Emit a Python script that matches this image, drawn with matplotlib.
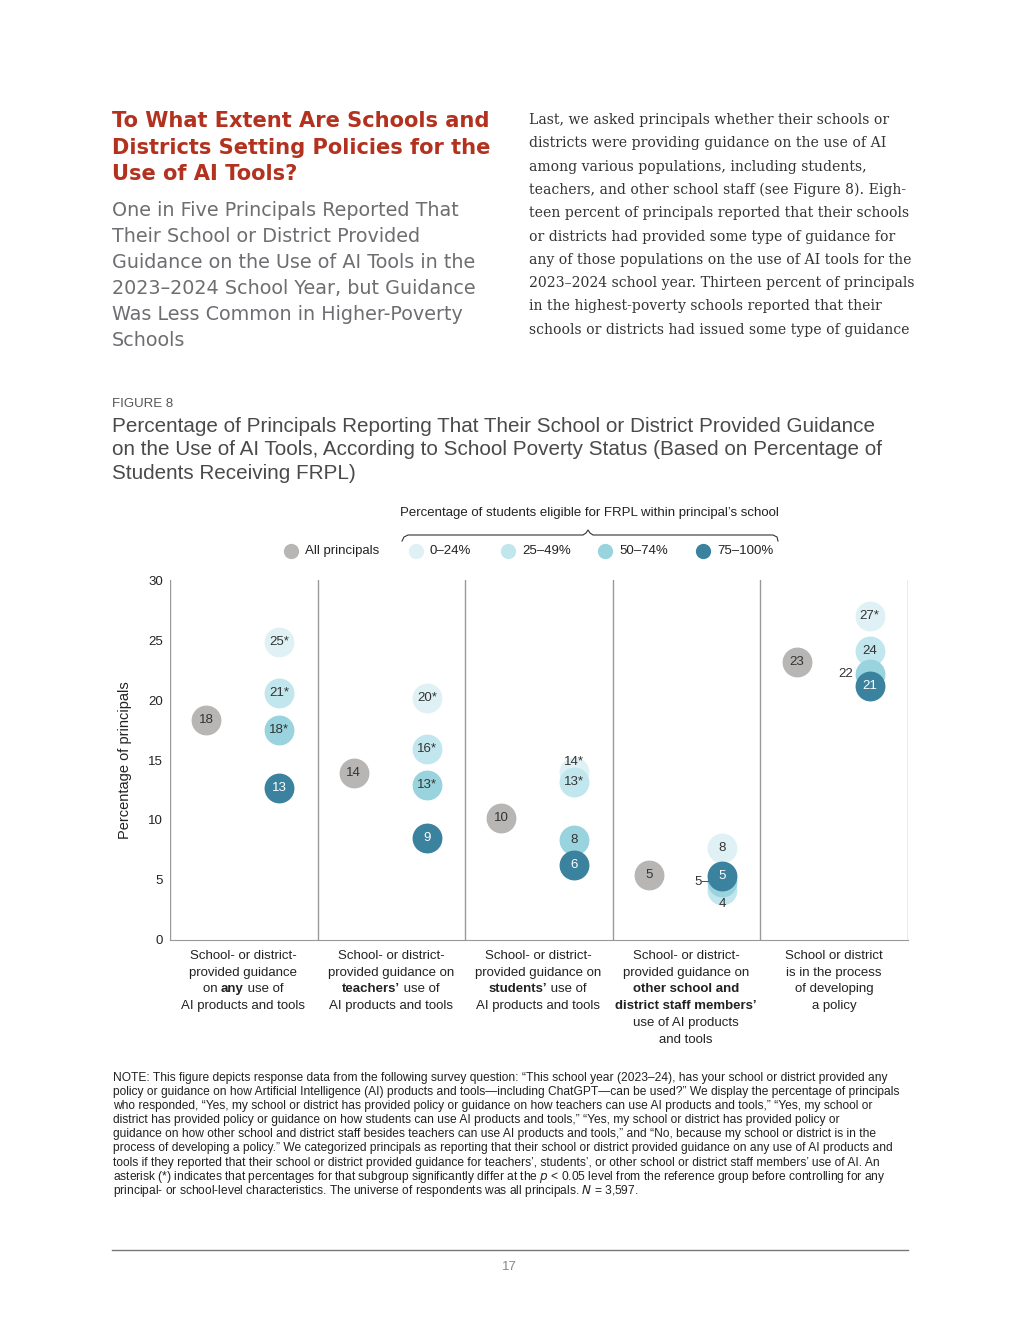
import numpy as np
import matplotlib
matplotlib.use('Agg')
import matplotlib.pyplot as plt
from matplotlib.lines import Line2D
from matplotlib.offsetbox import TextArea, HPacker, AnnotationBbox

plt.rcParams['font.family'] = ['Liberation Sans', 'DejaVu Sans']

W, H = 1020, 1320

# ── Data ──
panels = ['any', 'teachers', 'students', 'staff', 'developing']
groups = ['All principals', '0–24%', '25–49%', '50–74%', '75–100%']

all_vals = [18.3, 13.9, 10.2, 5.4, 23.2]
all_lbls = ['18', '14', '10', '5', '23']

frpl_0_24 = [24.8, 20.2, 14.0, 7.7, 27.0]
frpl_0_24_lbls = ['25*', '20*', '14*', '8', '27*']
frpl_25_49 = [20.6, 15.9, 13.2, 4.2, 24.1]
frpl_25_49_lbls = ['21*', '16*', '13*', '4', '24']
frpl_50_74 = [17.5, 12.9, 8.3, 4.8, 22.2]
frpl_50_74_lbls = ['18*', '13*', '8', '5', '22']
frpl_75_100 = [12.7, 8.5, 6.25, 5.35, 21.2]
frpl_75_100_lbls = ['13', '9', '6', '5', '21']

yticks = [0, 5, 10, 15, 20, 25, 30]

# ── Styles ──
RED = '#b3321f'
GREY_TXT = '#6d6e71'
DARK = '#333333'
colors = ['#b8b6b5', '#dff1f5', '#c1e6ed', '#98d3de', '#3b829e']


def fx(px):
    return px / W


def fy(py):
    return 1 - py / H


fig = plt.figure(figsize=(W / 100, H / 100), dpi=100)
fig.patch.set_facecolor('white')

# ── Page text ──
head = ['To What Extent Are Schools and', 'Districts Setting Policies for the',
        'Use of AI Tools?']
for s, y in zip(head, [121, 148, 174]):
    fig.text(fx(112), fy(y), s, color=RED, fontsize=15.1, fontweight='bold',
             family=['DejaVu Sans'], va='center', ha='left')

sub = ['One in Five Principals Reported That', 'Their School or District Provided',
       'Guidance on the Use of AI Tools in the', '2023–2024 School Year, but Guidance',
       'Was Less Common in Higher-Poverty', 'Schools']
for s, y in zip(sub, [210, 236, 262, 288, 314, 340]):
    fig.text(fx(112), fy(y), s, color=GREY_TXT, fontsize=13.8, family=['DejaVu Sans'],
             va='center', ha='left')

body = ['Last, we asked principals whether their schools or',
        'districts were providing guidance on the use of AI',
        'among various populations, including students,',
        'teachers, and other school staff (see Figure 8). Eigh-',
        'teen percent of principals reported that their schools',
        'or districts had provided some type of guidance for',
        'any of those populations on the use of AI tools for the',
        '2023–2024 school year. Thirteen percent of principals',
        'in the highest-poverty schools reported that their',
        'schools or districts had issued some type of guidance']
for i, s in enumerate(body):
    fig.text(fx(529), fy(120 + i * 23.3), s, color=DARK, fontsize=10.1,
             family=['DejaVu Serif'], va='center', ha='left')

fig.text(fx(112), fy(404), 'FIGURE 8', color='#555555', fontsize=9.5, va='center')
ftitle = ['Percentage of Principals Reporting That Their School or District Provided Guidance',
          'on the Use of AI Tools, According to School Poverty Status (Based on Percentage of',
          'Students Receiving FRPL)']
for s, y in zip(ftitle, [427, 450, 473]):
    fig.text(fx(112), fy(y), s, color='#4a4a4a', fontsize=14.9, va='center')

# ── Legend ──
fig.text(fx(589), fy(513), 'Percentage of students eligible for FRPL within principal’s school',
         fontsize=9.5, color='#222222', ha='center', va='center')
bx = [402, 404, 408, 583, 586, 588, 590, 593, 773, 777, 778]
by = [541, 537, 535, 535, 533, 530, 533, 535, 535, 537, 541]
fig.add_artist(Line2D([fx(v) for v in bx], [fy(v) for v in by], color='#333333', lw=0.8))

leg_mx = [291, 416, 508, 605, 703]
for g, c, mx in zip(groups, colors, leg_mx):
    fig.add_artist(Line2D([fx(mx)], [fy(551)], marker='o', ms=11, color=c, mec='none'))
    fig.text(fx(mx + 14), fy(551), g, fontsize=9.5, color='#222222', va='center')

# ── Chart ──
ax = fig.add_axes([fx(170), fy(940), fx(738), 360 / H])
ax.set_xlim(0, 5)
ax.set_ylim(0, 30)
for sp in ['top', 'right', 'left']:
    ax.spines[sp].set_visible(False)
ax.spines['bottom'].set_color('#999999')
for xv in range(6):
    ax.axvline(xv, color='#999999', lw=1)
ax.set_yticks(yticks)
ax.tick_params(axis='y', length=0, pad=5, labelsize=9.5, labelcolor='#222222')
ax.set_xticks([])
ax.set_ylabel('Percentage of principals', fontsize=10.5, color='#222222', labelpad=12)

x = np.arange(5)
S = 420
ax.scatter(x + 0.245, all_vals, s=S, color=colors[0], zorder=3, clip_on=False)
for xi, v, t in zip(x, all_vals, all_lbls):
    ax.text(xi + 0.245, v, t, ha='center', va='center', fontsize=9.5, color=DARK, zorder=4)

series = [(frpl_0_24, frpl_0_24_lbls), (frpl_25_49, frpl_25_49_lbls),
          (frpl_50_74, frpl_50_74_lbls), (frpl_75_100, frpl_75_100_lbls)]
# labels moved off hidden circles: (series index, panel) -> (dx px, dy px, ha)
moved = {(0, 2): (0, 10, 'center'), (1, 3): (0, -14, 'center'),
         (2, 3): (-13, 0, 'right'), (2, 4): (-17, 0, 'right')}
for k, (vals, lbls) in enumerate(series):
    c = colors[k + 1]
    ax.scatter(x + 0.74, vals, s=S, color=c, zorder=3 + k * 2, clip_on=False)
    for xi, v, t in zip(x, vals, lbls):
        tc = 'white' if k == 3 else DARK
        if (k, xi) in moved:
            dx, dy, ha = moved[(k, xi)]
            if ha == 'right' and xi == 3:
                t = t + '–'
            ax.annotate(t, (xi + 0.74, v), xytext=(dx, dy), textcoords='offset pixels',
                        ha=ha, va='center', fontsize=9.5, color=DARK, zorder=20)
        else:
            ax.text(xi + 0.74, v, t, ha='center', va='center', fontsize=9.5,
                    color=tc, zorder=4 + k * 2)

# ── Category labels ──
BOLD = 'bold'
cat_lines = [
    [[('School- or district-', None)], [('provided guidance', None)],
     [('on ', None), ('any', BOLD), (' use of', None)], [('AI products and tools', None)]],
    [[('School- or district-', None)], [('provided guidance on', None)],
     [('teachers’', BOLD), (' use of', None)], [('AI products and tools', None)]],
    [[('School- or district-', None)], [('provided guidance on', None)],
     [('students’', BOLD), (' use of', None)], [('AI products and tools', None)]],
    [[('School- or district-', None)], [('provided guidance on', None)],
     [('other school and', BOLD)], [('district staff members’', BOLD)],
     [('use of AI products', None)], [('and tools', None)]],
    [[('School or district', None)], [('is in the process', None)],
     [('of developing', None)], [('a policy', None)]],
]
cat_cx = [243, 391, 538, 686, 834]
line_y = [956, 973, 989, 1006, 1023, 1040]
for cx, lines in zip(cat_cx, cat_lines):
    for ly, parts in zip(line_y, lines):
        if len(parts) == 1:
            s, w = parts[0]
            fig.text(fx(cx), fy(ly), s, fontsize=9.5, color='#222222', ha='center',
                     va='center', fontweight=w or 'normal')
        else:
            boxes = [TextArea(s, textprops=dict(fontsize=9.5, color='#222222',
                                                 fontweight=w or 'normal'))
                     for s, w in parts]
            pk = HPacker(children=boxes, align='baseline', pad=0, sep=0)
            ab = AnnotationBbox(pk, (fx(cx), fy(ly)), xycoords='figure fraction',
                                frameon=False, box_alignment=(0.5, 0.5), pad=0)
            fig.add_artist(ab)

# ── Note ──
note = [
    'NOTE: This figure depicts response data from the following survey question: “This school year (2023–24), has your school or district provided any',
    'policy or guidance on how Artificial Intelligence (AI) products and tools—including ChatGPT—can be used?” We display the percentage of principals',
    'who responded, “Yes, my school or district has provided policy or guidance on how teachers can use AI products and tools,” “Yes, my school or',
    'district has provided policy or guidance on how students can use AI products and tools,” “Yes, my school or district has provided policy or',
    'guidance on how other school and district staff besides teachers can use AI products and tools,” and “No, because my school or district is in the',
    'process of developing a policy.” We categorized principals as reporting that their school or district provided guidance on any use of AI products and',
    'tools if they reported that their school or district provided guidance for teachers’, students’, or other school or district staff members’ use of AI. An',
    'asterisk (*) indicates that percentages for that subgroup significantly differ at the $p$ < 0.05 level from the reference group before controlling for any',
    'principal- or school-level characteristics. The universe of respondents was all principals. $N$ = 3,597.',
]
for i, s in enumerate(note):
    fig.text(fx(113), fy(1078 + i * 14.1), s, fontsize=8.65, color='#222222', va='center')

# ── Footer ──
fig.add_artist(Line2D([fx(112), fx(908)], [fy(1250), fy(1250)], color='#777777', lw=1))
fig.text(fx(509), fy(1267), '17', fontsize=9.5, color='#888888', ha='center', va='center')

plt.savefig('out.png', dpi=100, facecolor='white')
